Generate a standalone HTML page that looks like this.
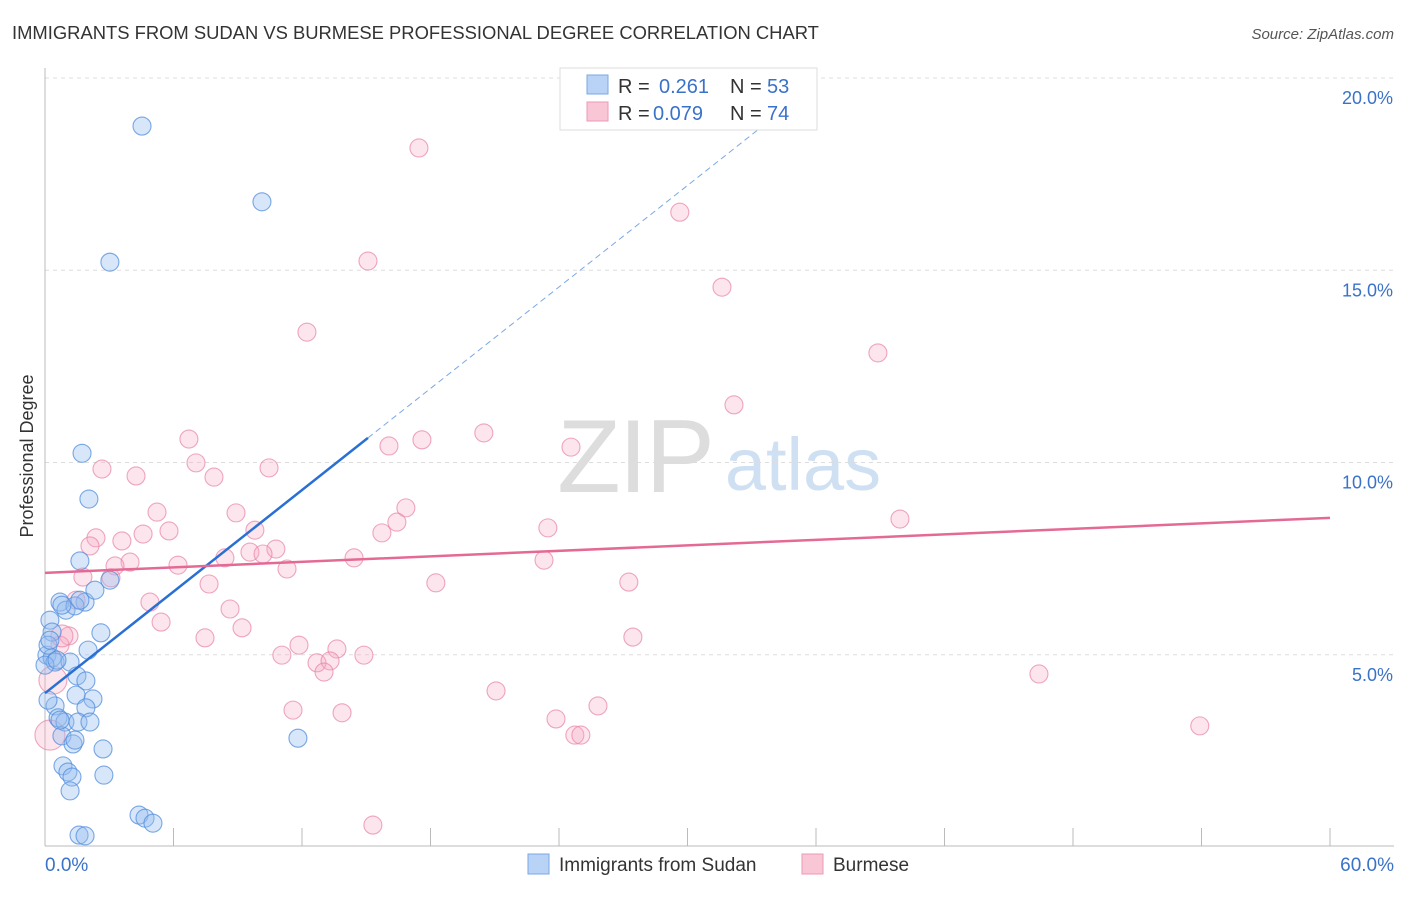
<!DOCTYPE html>
<html><head><meta charset="utf-8"><style>
body{margin:0;background:#fff;font-family:"Liberation Sans",sans-serif}
svg text{font-family:"Liberation Sans",sans-serif}
</style></head><body>
<svg id="chart" width="1406" height="892" xmlns="http://www.w3.org/2000/svg">
<text x="12" y="39" font-size="18.4" fill="#333">IMMIGRANTS FROM SUDAN VS BURMESE PROFESSIONAL DEGREE CORRELATION CHART</text>
<text x="1394" y="39" font-size="15" fill="#555" text-anchor="end" font-style="italic">Source: ZipAtlas.com</text>
<text transform="translate(33,456) rotate(-90)" font-size="18" fill="#333" text-anchor="middle">Professional Degree</text>
<g>
<text x="635" y="492" font-size="104" fill="#ddd" text-anchor="middle" font-family="Liberation Serif" letter-spacing="-2">ZIP</text>
<text x="803" y="490" font-size="74" fill="#cfe0f3" text-anchor="middle">atlas</text>
</g>
<g id="grid"></g><g id="axes"></g><g id="pts"></g><g id="trends"></g>
<g>
<rect x="560" y="68" width="257" height="62" fill="#fff" stroke="#ddd"/>
<rect x="587" y="75" width="21" height="19" fill="#b8d3f5" stroke="#7aa8e6"/>
<rect x="587" y="102" width="21" height="19" fill="#f9c6d6" stroke="#ec9ab6"/>
<text x="618" y="93" font-size="20" fill="#333">R = </text><text x="659" y="93" font-size="20" fill="#3a72c9">0.261</text>
<text x="730" y="93" font-size="20" fill="#333">N = </text><text x="767" y="93" font-size="20" fill="#3a72c9">53</text>
<text x="618" y="120" font-size="20" fill="#333">R = </text><text x="653" y="120" font-size="20" fill="#3a72c9">0.079</text>
<text x="730" y="120" font-size="20" fill="#333">N = </text><text x="767" y="120" font-size="20" fill="#3a72c9">74</text>
</g>
<g>
<rect x="528" y="854" width="21" height="20" fill="#b8d3f5" stroke="#7aa8e6"/>
<text x="559" y="871" font-size="19" fill="#333">Immigrants from Sudan</text>
<rect x="802" y="854" width="21" height="20" fill="#f9c6d6" stroke="#ec9ab6"/>
<text x="833" y="871" font-size="19" fill="#333">Burmese</text>
</g>
</svg>
<script>
const xTicks=[0,6,12,18,24,30,36,42,48,54,60];
const yTicks=[5,10,15,20];
const yTickLabels=["5.0%","10.0%","15.0%","20.0%"];
const sudanX=[4.53,10.13,3.03,1.73,2.05,1.63,3.03,0.70,1.87,0.98,1.40,0.23,0.33,2.61,2.01,0.09,0.33,0.47,1.17,1.49,1.91,2.24,1.45,0.47,1.91,0.61,0.93,1.54,2.10,0.79,1.31,2.71,11.81,0.84,1.07,1.26,2.75,1.17,4.39,4.67,5.04,1.59,1.87,0.14,0,0.14,0.70,0.56,0.23,0.79,1.63,2.33,1.40];
const sudanY=[18.75,16.78,15.21,10.24,9.05,7.44,6.94,6.37,6.37,6.16,6.27,5.90,5.59,5.57,5.12,4.99,4.92,4.81,4.81,4.45,4.32,3.85,3.95,3.67,3.62,3.36,3.25,3.25,3.25,2.89,2.68,2.55,2.83,2.11,1.95,1.82,1.87,1.46,0.83,0.75,0.62,0.31,0.29,5.25,4.73,3.82,3.30,4.86,5.38,6.29,6.42,6.68,2.78];
const burX=[17.46,29.64,15.08,31.61,12.23,38.89,32.17,6.72,20.49,17.60,16.06,24.56,7.05,2.66,4.25,10.46,7.89,5.23,8.92,16.85,16.43,23.48,39.92,9.80,5.79,15.73,4.58,2.38,2.10,3.59,10.78,9.57,10.18,23.30,14.43,3.97,3.27,6.21,8.40,11.30,1.77,3.08,7.66,18.25,27.26,4.90,1.45,8.64,5.42,9.20,7.47,27.45,1.12,0.70,11.86,13.63,14.89,11.06,12.70,13.31,13.03,46.41,21.06,11.58,13.87,25.82,23.86,24.74,25.02,53.92,15.31,0.37,0.23,0.79];
const burY=[18.18,16.51,15.24,14.56,13.39,12.85,11.50,10.61,10.77,10.59,10.43,10.40,9.99,9.83,9.65,9.86,9.62,8.71,8.69,8.82,8.45,8.30,8.53,8.24,8.22,8.17,8.14,8.04,7.83,7.96,7.75,7.67,7.62,7.46,7.52,7.41,7.31,7.33,7.52,7.23,7.02,7.00,6.84,6.87,6.89,6.37,6.42,6.19,5.85,5.70,5.44,5.46,5.49,5.25,5.25,5.15,4.99,4.99,4.79,4.84,4.55,4.50,4.06,3.56,3.49,3.67,3.33,2.91,2.91,3.15,0.57,4.34,2.91,5.49];
const burSize=[9,9,9,9,9,9,9,9,9,9,9,9,9,9,9,9,9,9,9,9,9,9,9,9,9,9,9,9,9,9,9,9,9,9,9,9,9,9,9,9,9,9,9,9,9,9,9,9,9,9,9,9,9,9,9,9,9,9,9,9,9,9,9,9,9,9,9,9,9,9,9,14,15,11];
const sudanTrend=[[0,4.0],[15.08,10.64],[35.1,19.45]];
const burTrend=[[0,7.13],[60,8.56]];
const X=v=>45+v/60*1285, Y=v=>847-v*38.45;
const NS="http://www.w3.org/2000/svg";
function mk(tag,attrs,parent){const e=document.createElementNS(NS,tag);for(const k in attrs)e.setAttribute(k,attrs[k]);parent.appendChild(e);return e;}
const grid=document.getElementById('grid'),axes=document.getElementById('axes'),pts=document.getElementById('pts'),tr=document.getElementById('trends');
yTicks.forEach((t,i)=>{
 const l=mk('line',{x1:45,x2:1394,y1:Y(t),y2:Y(t),stroke:'#ddd','stroke-dasharray':'4,4'},grid);
 
 
 const tx=mk('text',{x:1393,y:Y(t)+26,'font-size':18,fill:'#3a72c9','text-anchor':'end'},axes);
 tx.textContent=yTickLabels[i];
 
 
});
const ax=mk('line',{x1:45,x2:45,y1:68,y2:846,stroke:'#bbb'},axes);


const bx=mk('line',{x1:45,x2:1394,y1:846,y2:846,stroke:'#bbb'},axes);


xTicks.forEach(t=>{
 const l=mk('line',{x1:X(t),x2:X(t),y1:828,y2:846,stroke:'#bbb'},axes);
 
 
});
[[0,'start',45,'0.0%'],[60,'end',1394,'60.0%']].forEach(a=>{
 const tx=mk('text',{x:a[2],y:871,'font-size':19,fill:'#3a72c9','text-anchor':a[1]},axes);
 tx.textContent=a[3];
 
 
});
burX.forEach((v,i)=>{
 const c=mk('circle',{cx:X(v),cy:Y(burY[i]),r:burSize[i],fill:'rgba(244,168,194,0.3)',stroke:'rgba(232,130,165,0.7)','stroke-width':1.1},pts);
 
 
});
sudanX.forEach((v,i)=>{
 const c=mk('circle',{cx:X(v),cy:Y(sudanY[i]),r:9,fill:'rgba(150,190,240,0.38)',stroke:'rgba(80,140,220,0.75)','stroke-width':1.1},pts);
 
 
});
let s1=mk('line',{x1:X(sudanTrend[0][0]),y1:Y(sudanTrend[0][1]),x2:X(sudanTrend[1][0]),y2:Y(sudanTrend[1][1]),stroke:'#2a6fd4','stroke-width':2.5},tr);


let s2=mk('line',{x1:X(sudanTrend[1][0]),y1:Y(sudanTrend[1][1]),x2:X(sudanTrend[2][0]),y2:Y(sudanTrend[2][1]),stroke:'#7aa8e6','stroke-width':1,'stroke-dasharray':'6,4'},tr);


let b1=mk('line',{x1:X(burTrend[0][0]),y1:Y(burTrend[0][1]),x2:X(burTrend[1][0]),y2:Y(burTrend[1][1]),stroke:'#e46a95','stroke-width':2.5},tr);


</script>
</body></html>
